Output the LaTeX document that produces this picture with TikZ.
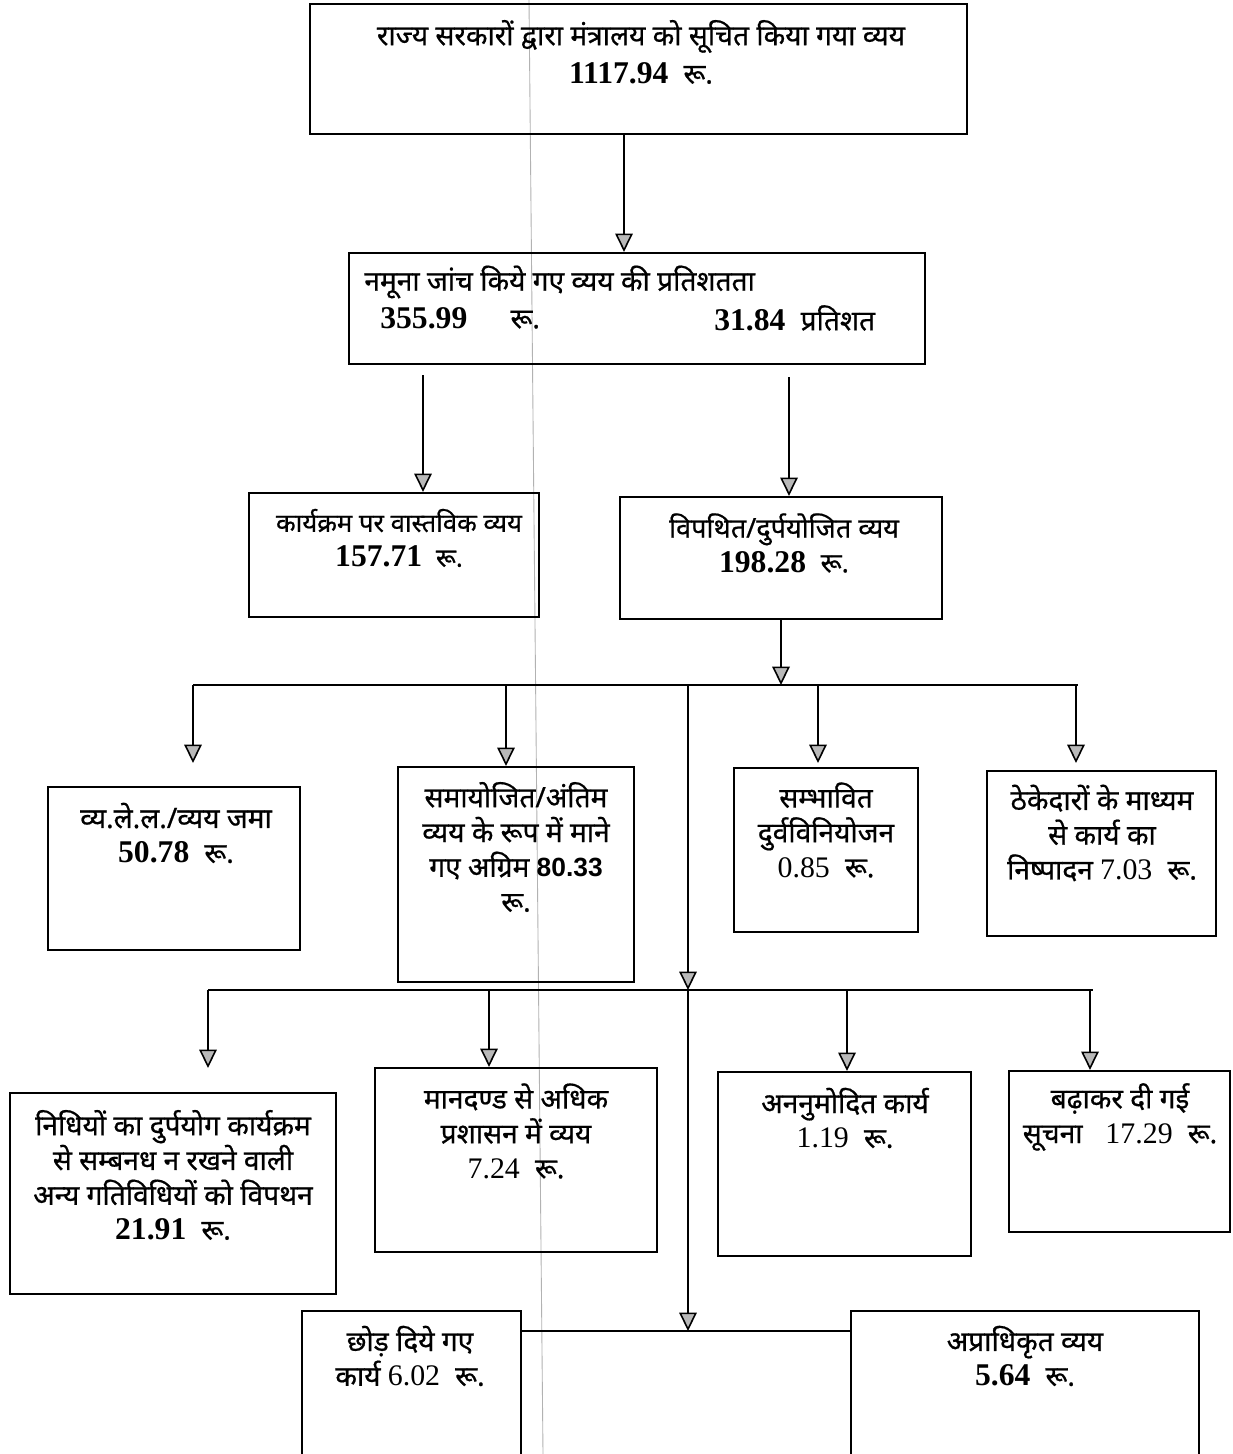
\documentclass[tikz,border=0pt]{standalone}
\usepackage{fontspec}
\newfontfamily\hin[Script=Devanagari, FakeBold=0.6]{Noto Sans}
\newfontfamily\numf{Liberation Serif}
\newfontfamily\numsf{Liberation Sans}
\usetikzlibrary{arrows.meta,fit}
\newcommand\nm[1]{{\numf\bfseries\fontsize{18}{20}\selectfont #1}}
\newcommand\nr[1]{{\numf\mdseries\fontsize{17}{20}\selectfont #1}}
\newcommand\ns[1]{{\numsf\bfseries\fontsize{15}{20}\selectfont #1}}
\tikzset{
  box/.style={draw, line width=1.2pt, inner sep=0pt, rectangle},
  txt/.style={font=\hin\fontsize{16}{19.8}\selectfont, align=center, inner sep=0pt},
  con/.style={draw, line width=0.9pt},
  arr/.style={con, -{Triangle[width=10pt,length=10.5pt,fill=gray!55]}},
}
\begin{document}
\begin{tikzpicture}[x=0.02cm,y=-0.02cm]
\useasboundingbox (0,0) rectangle (1233,1454);
\clip (0,0) rectangle (1233,1454);
\fill[white] (0,0) rectangle (1233,1454);
% fold line of the scan
\draw[gray!60, line width=0.5pt] (529,0) -- (543,1454);

% boxes
\node[box, fit={(310,4) (967,134)}] (b1) {};
\node[box, fit={(349,253) (925,364)}] (b2) {};
\node[box, fit={(249,493) (539,617)}] (b3) {};
\node[box, fit={(620,497) (942,619)}] (b4) {};
\node[box, fit={(48,787) (300,950)}] (b5) {};
\node[box, fit={(398,767) (634,982)}] (b6) {};
\node[box, fit={(734,768) (918,932)}] (b7) {};
\node[box, fit={(987,771) (1216,936)}] (b8) {};
\node[box, fit={(10,1093) (336,1294)}] (b9) {};
\node[box, fit={(375,1068) (657,1252)}] (b10) {};
\node[box, fit={(718,1072) (971,1256)}] (b11) {};
\node[box, fit={(1009,1071) (1230,1232)}] (b12) {};
\node[box, fit={(302,1311) (521,1490)}] (b13) {};
\node[box, fit={(851,1311) (1199,1490)}] (b14) {};

% texts
\node[txt] (t1) at (641,52) {राज्य सरकारों द्वारा मंत्रालय को सूचित किया गया व्यय\\[2pt] \nm{1117.94}\; रू.};
\node[txt, anchor=west] (t2a) at (364,282) {नमूना जांच किये गए व्यय की प्रतिशतता};
\node[txt, anchor=west] (t2b) at (380,318) {\nm{355.99}\quad\; रू.};
\node[txt, anchor=west] (t2c) at (714,318) {\nm{31.84}\; प्रतिशत};
\node[txt, font=\hin\fontsize{14.6}{19.8}\selectfont] (t3) at (399,538) {कार्यक्रम पर वास्तविक व्यय\\ \nm{157.71}\; रू.};
\node[txt, font=\hin\fontsize{15.4}{19.8}\selectfont] (t4) at (784,543) {विपथित/दुर्पयोजित व्यय\\ \nm{198.28}\; रू.};
\node[txt] (t5) at (176,833) {व्य.ले.ल./व्यय जमा\\ \nm{50.78}\; रू.};
\node[txt] (t6) at (516,847) {समायोजित/अंतिम\\ व्यय के रूप में माने\\ गए अग्रिम \ns{80.33}\\ रू.};
\node[txt] (t7) at (826,830) {सम्भावित\\ दुर्वविनियोजन\\ \nr{0.85}\; रू.};
\node[txt] (t8) at (1102,833) {ठेकेदारों के माध्यम\\ से कार्य का\\ निष्पादन \nr{7.03}\; रू.};
\node[txt] (t9) at (173,1175) {निधियों का दुर्पयोग कार्यक्रम\\ से सम्बनध न रखने वाली\\ अन्य गतिविधियों को विपथन\\ \nm{21.91}\; रू.};
\node[txt] (t10) at (516,1131) {मानदण्ड से अधिक\\ प्रशासन में व्यय\\ \nr{7.24}\; रू.};
\node[txt] (t11) at (845,1118) {अननुमोदित कार्य\\ \nr{1.19}\; रू.};
\node[txt] (t12) at (1120,1117) {बढ़ाकर दी गई\\ सूचना\;\; \nr{17.29}\; रू.};
\node[txt] (t13) at (410,1356) {छोड़ दिये गए\\ कार्य \nr{6.02}\; रू.};
\node[txt] (t14) at (1025,1356) {अप्राधिकृत व्यय\\ \nm{5.64}\; रू.};

% junction coordinates
\coordinate (j1) at (781,685);
\coordinate (bus1L) at (193,685);
\coordinate (bus1R) at (1078,685);
\coordinate (d6) at (506,685);
\coordinate (d7) at (818,685);
\coordinate (d8) at (1076,685);
\coordinate (k1) at (688,685);
\coordinate (k2) at (688,990);
\coordinate (k3) at (688,1331);
\coordinate (bus2L) at (208,990);
\coordinate (bus2R) at (1093,990);
\coordinate (e10) at (489,990);
\coordinate (e11) at (847,990);
\coordinate (e12) at (1090,990);
\coordinate (tip5) at (193,763);
\coordinate (tip7) at (818,763);
\coordinate (tip8) at (1076,763);
\coordinate (tip9) at (208,1068);
\coordinate (s3) at (423,375);
\coordinate (s4) at (789,377);

% connectors
\draw[arr] (b1.south -| 624,0) -- (b2.north -| 624,0);
\draw[arr] (s3) -- (b3.north -| s3);
\draw[arr] (s4) -- (b4.north -| s4);
\draw[arr] (b4.south -| j1) -- (j1);
\draw[con] (bus1L) -- (bus1R);
\draw[arr] (bus1L) -- (tip5);
\draw[arr] (d6) -- (b6.north -| d6);
\draw[arr] (d7) -- (tip7);
\draw[arr] (d8) -- (tip8);
\draw[arr] (k1) -- (k2);
\draw[con] (bus2L) -- (bus2R);
\draw[arr] (bus2L) -- (tip9);
\draw[arr] (e10) -- (b10.north -| e10);
\draw[arr] (e11) -- (b11.north -| e11);
\draw[arr] (e12) -- (b12.north -| e12);
\draw[arr] (k2) -- (k3);
\draw[con] (b13.east |- k3) -- (b14.west |- k3);
\end{tikzpicture}
\end{document}
